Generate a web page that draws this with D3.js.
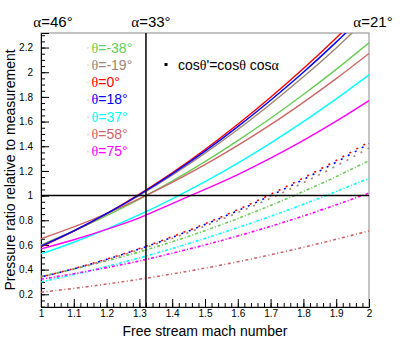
<!DOCTYPE html>
<html>
<head>
<meta charset="utf-8">
<script src="https://cdn.jsdelivr.net/npm/d3@7"></script>
<style>
  body { margin: 0; background: #fff; }
  text { font-family: "Liberation Sans", Arial, sans-serif; }
  .greek { font-family: "Liberation Serif", "DejaVu Serif", serif; }
</style>
</head>
<body>
<script>
// Mach numbers where the curves were read
const mach = [1.0, 1.1, 1.2, 1.3, 1.4, 1.5, 1.6, 1.7, 1.8, 1.9, 2.0];

const thetas = [-38, -19, 0, 18, 37, 58, 75];
const colors = ["#66cc55", "#a08474", "#ff0000", "#0000ff", "#00ffff", "#cc6666", "#ff00ff"];

// solid curves (cos theta' = cos theta cos alpha)
const solid = [
  [0.600, 0.713, 0.837, 0.972, 1.118, 1.276, 1.446, 1.627, 1.819, 2.023, 2.238],
  [0.595, 0.714, 0.850, 1.001, 1.165, 1.344, 1.536, 1.743, 1.963, 2.197, 2.450],
  [0.585, 0.712, 0.854, 1.012, 1.185, 1.374, 1.578, 1.797, 2.030, 2.278, 2.540],
  [0.590, 0.714, 0.853, 1.007, 1.176, 1.360, 1.559, 1.773, 2.000, 2.244, 2.502],
  [0.527, 0.622, 0.728, 0.845, 0.974, 1.113, 1.264, 1.426, 1.599, 1.784, 1.979],
  [0.650, 0.746, 0.854, 0.975, 1.107, 1.251, 1.407, 1.575, 1.756, 1.948, 2.152],
  [0.568, 0.642, 0.726, 0.820, 0.935, 1.050, 1.170, 1.303, 1.447, 1.603, 1.770]
];

// dotted / dash-dotted curves
const dotted = [
  [0.345, 0.404, 0.470, 0.544, 0.626, 0.716, 0.814, 0.920, 1.033, 1.154, 1.284],
  [0.340, 0.405, 0.479, 0.562, 0.653, 0.753, 0.862, 0.979, 1.105, 1.240, 1.385],
  [0.340, 0.408, 0.485, 0.571, 0.667, 0.772, 0.886, 1.010, 1.143, 1.285, 1.435],
  [0.340, 0.407, 0.483, 0.568, 0.662, 0.766, 0.878, 1.000, 1.131, 1.271, 1.420],
  [0.300, 0.360, 0.425, 0.495, 0.571, 0.653, 0.740, 0.832, 0.930, 1.033, 1.141],
  [0.217, 0.248, 0.283, 0.322, 0.365, 0.412, 0.464, 0.520, 0.581, 0.646, 0.714],
  [0.322, 0.367, 0.416, 0.470, 0.533, 0.600, 0.673, 0.751, 0.835, 0.925, 1.020]
];

const alphaMach = [1, 1.32, 2];
const alphaDeg = [46, 33, 21];
const refMach = 1.32;
const refRatio = 1;

const xTicks = [1, 1.1, 1.2, 1.3, 1.4, 1.5, 1.6, 1.7, 1.8, 1.9, 2];
const yTicks = [0.2, 0.4, 0.6, 0.8, 1, 1.2, 1.4, 1.6, 1.8, 2, 2.2];

const width = 411, height = 342;
const margin = {left: 41, right: 42, top: 33, bottom: 35};

const x = d3.scaleLinear().domain([1, 2]).range([margin.left, width - margin.right]);
const y = d3.scaleLinear().domain([0.097, 2.318]).range([height - margin.bottom, margin.top]);

const svg = d3.select("body").append("svg")
    .attr("width", width)
    .attr("height", height);

svg.append("clipPath").attr("id", "frame")
  .append("rect")
    .attr("x", x.range()[0]).attr("y", y.range()[1])
    .attr("width", x.range()[1] - x.range()[0])
    .attr("height", y.range()[0] - y.range()[1]);

// frame (top / right)
svg.append("rect")
    .attr("x", x.range()[0]).attr("y", y.range()[1])
    .attr("width", x.range()[1] - x.range()[0])
    .attr("height", y.range()[0] - y.range()[1])
    .attr("fill", "none")
    .attr("stroke", "#888")
    .attr("stroke-width", 1);

// axes
const xMinor = d3.range(1, 2.0001, 0.02);
const yMinor = d3.range(0.1, 2.30001, 0.05);

const xAxisG = svg.append("g").attr("transform", `translate(0,${y.range()[0]})`);
xAxisG.call(d3.axisBottom(x).tickValues(xMinor).tickSize(-4).tickFormat(""))
  .call(g => g.select(".domain").remove());
xAxisG.append("g")
  .call(d3.axisBottom(x).tickValues(xTicks).tickSize(-8).tickPadding(3).tickFormat(d3.format("~g")))
  .call(g => g.select(".domain").attr("stroke", "#000"))
  .call(g => g.selectAll("text").attr("font-size", 10).attr("fill", "#000")
    .attr("font-family", "Liberation Sans, Arial, sans-serif"));

const yAxisG = svg.append("g").attr("transform", `translate(${x.range()[0]},0)`);
yAxisG.call(d3.axisLeft(y).tickValues(yMinor).tickSize(-4).tickFormat(""))
  .call(g => g.select(".domain").remove());
yAxisG.append("g")
  .call(d3.axisLeft(y).tickValues(yTicks).tickSize(-8).tickPadding(8).tickFormat(d3.format("~g")))
  .call(g => g.select(".domain").attr("stroke", "#000"))
  .call(g => g.selectAll("text").attr("font-size", 10).attr("fill", "#000")
    .attr("font-family", "Liberation Sans, Arial, sans-serif"));

svg.selectAll(".tick line").attr("stroke", "#000");

// curves
const line = d3.line()
    .x((d, i) => x(mach[i]))
    .y(d => y(d))
    .curve(d3.curveMonotoneX);

const plot = svg.append("g").attr("clip-path", "url(#frame)");

const dashes = ["3,2,1,2", "2,6", "2,6", "2,6", "3,2,1,2", "3,2.5,1,2.5", "3,2,1,2"];
const dashOffset = [0, 0, 2.5, 5, 0, 0, 0];

plot.selectAll(".dot")
  .data(dotted)
  .join("path")
    .attr("class", "dot")
    .attr("d", line)
    .attr("fill", "none")
    .attr("stroke", (d, i) => colors[i])
    .attr("stroke-width", 1.6)
    .attr("stroke-dasharray", (d, i) => dashes[i])
    .attr("stroke-dashoffset", (d, i) => dashOffset[i]);

const order = [0, 5, 4, 6, 1, 2, 3];
plot.selectAll(".solid")
  .data(order)
  .join("path")
    .attr("class", "solid")
    .attr("d", i => line(solid[i]))
    .attr("fill", "none")
    .attr("stroke", i => colors[i])
    .attr("stroke-width", 1.4);

// reference lines
svg.append("line")
    .attr("x1", x(refMach)).attr("x2", x(refMach))
    .attr("y1", y.range()[0]).attr("y2", y.range()[1])
    .attr("stroke", "#000").attr("stroke-width", 1.5);
svg.append("line")
    .attr("x1", x.range()[0]).attr("x2", x.range()[1])
    .attr("y1", y(refRatio)).attr("y2", y(refRatio))
    .attr("stroke", "#000").attr("stroke-width", 1.5);

// alpha labels on top
const labelShift = [12, 5, 4];
alphaMach.forEach((m, i) => {
  const t = svg.append("text")
      .attr("x", x(m) + labelShift[i])
      .attr("y", 27)
      .attr("text-anchor", "middle")
      .attr("font-size", 15)
      .attr("fill", "#000");
  t.append("tspan").attr("class", "greek").text("α");
  t.append("tspan").text(`=${alphaDeg[i]}°`);
});

// theta legend
thetas.forEach((th, i) => {
  const yy = 52.5 + i * 17.3;
  svg.append("circle")
      .attr("cx", 88).attr("cy", yy - 4.5).attr("r", 0.7)
      .attr("fill", "#bbb");
  const t = svg.append("text")
      .attr("x", 91.5).attr("y", yy)
      .attr("font-size", 14)
      .attr("fill", colors[i]);
  t.append("tspan").attr("class", "greek").text("θ");
  t.append("tspan").text(`=${th}°`);
});

// formula note
svg.append("rect")
    .attr("x", 164.5).attr("y", 63).attr("width", 3).attr("height", 3)
    .attr("fill", "#000");
const f = svg.append("text")
    .attr("x", 178).attr("y", 70)
    .attr("font-size", 14)
    .attr("fill", "#000");
f.append("tspan").text("cos");
f.append("tspan").attr("class", "greek").text("θ");
f.append("tspan").text("'=cos");
f.append("tspan").attr("class", "greek").text("θ");
f.append("tspan").text(" cos");
f.append("tspan").attr("class", "greek").text("α");

// axis titles
svg.append("text")
    .attr("x", (x.range()[0] + x.range()[1]) / 2)
    .attr("y", 336)
    .attr("text-anchor", "middle")
    .attr("font-size", 14)
    .attr("fill", "#000")
    .text("Free stream mach number");

svg.append("text")
    .attr("transform", `translate(15,${(y.range()[0] + y.range()[1]) / 2}) rotate(-90)`)
    .attr("text-anchor", "middle")
    .attr("font-size", 14)
    .attr("fill", "#000")
    .text("Pressure ratio relative to measurement");
</script>
</body>
</html>
